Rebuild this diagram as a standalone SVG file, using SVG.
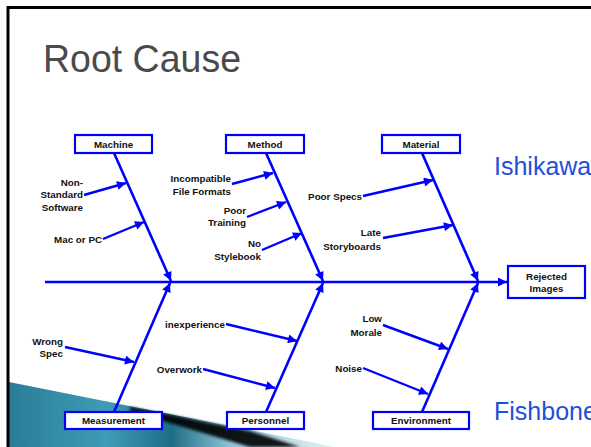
<svg xmlns="http://www.w3.org/2000/svg" width="591" height="447" viewBox="0 0 591 447">
<defs>
<style>
.bone{stroke:#0000ff;stroke-width:2.6;fill:none;}
.sub{stroke:#0000ff;stroke-width:2.4;fill:none;}
.box{fill:#ffffff;stroke:#0000ff;stroke-width:2.2;}
.lbl{font-family:"Liberation Sans",Arial,sans-serif;font-size:9.8px;font-weight:bold;fill:#111111;}
.c{text-anchor:middle;}
.e{text-anchor:end;}
.big{font-family:"Liberation Sans",Arial,sans-serif;font-size:25px;fill:#1d4fd8;}
</style>
<marker id="ah" viewBox="0 0 10 10" refX="10" refY="5" markerWidth="11" markerHeight="9" markerUnits="userSpaceOnUse" orient="auto">
<path d="M0,0 L10,5 L0,10 Z" fill="#0000ff"/>
</marker>
<linearGradient id="teal" x1="9" y1="0" x2="335" y2="0" gradientUnits="userSpaceOnUse">
<stop offset="0" stop-color="#2a7d97"/>
<stop offset="0.3" stop-color="#3f9cb6"/>
<stop offset="0.5" stop-color="#1f6d86"/>
<stop offset="0.68" stop-color="#8ec6d6"/>
<stop offset="1" stop-color="#e4f2f6"/>
</linearGradient>
<filter id="blur" x="-10%" y="-50%" width="120%" height="200%"><feGaussianBlur stdDeviation="1.5"/></filter>
</defs>
<rect x="0" y="0" width="591" height="447" fill="#ffffff"/>
<g id="decoration">
<polygon points="9,382 335,447 9,447" fill="url(#teal)"/>
<polygon points="130,407 250,431 300,447 250,447 130,411" fill="#000000" filter="url(#blur)" opacity="0.9"/>
</g>
<g id="frame">
<line x1="7" y1="7.5" x2="591" y2="7.5" stroke="#000000" stroke-width="3"/>
<line x1="8" y1="6" x2="8" y2="447" stroke="#000000" stroke-width="3"/>
</g>
<text id="title" x="43" y="72" font-family="'Liberation Sans',Arial,sans-serif" font-size="39" fill="#4a4a4a" textLength="198" lengthAdjust="spacingAndGlyphs">Root Cause</text>
<text id="ishikawa" class="big" x="494" y="175">Ishikawa</text>
<text id="fishbone" class="big" x="494" y="420">Fishbone</text>
<g id="connectors">
<line class="bone" x1="45" y1="282" x2="507" y2="282" marker-end="url(#ah)"/>
<line class="bone" x1="114" y1="153" x2="171" y2="281" marker-end="url(#ah)"/>
<line class="bone" x1="266" y1="153" x2="323" y2="281" marker-end="url(#ah)"/>
<line class="bone" x1="422" y1="153" x2="478" y2="281" marker-end="url(#ah)"/>
<line class="bone" x1="114" y1="412" x2="170" y2="283" marker-end="url(#ah)"/>
<line class="bone" x1="266" y1="412" x2="323" y2="283" marker-end="url(#ah)"/>
<line class="bone" x1="422" y1="412" x2="478" y2="283" marker-end="url(#ah)"/>
<line class="sub" x1="84" y1="195" x2="126" y2="183" marker-end="url(#ah)"/>
<line class="sub" x1="103" y1="239" x2="144" y2="222" marker-end="url(#ah)"/>
<line class="sub" x1="232" y1="184" x2="273" y2="173" marker-end="url(#ah)"/>
<line class="sub" x1="247" y1="217" x2="286" y2="202" marker-end="url(#ah)"/>
<line class="sub" x1="262" y1="250" x2="302" y2="233" marker-end="url(#ah)"/>
<line class="sub" x1="363" y1="196" x2="433" y2="180" marker-end="url(#ah)"/>
<line class="sub" x1="383" y1="238" x2="453" y2="225" marker-end="url(#ah)"/>
<line class="sub" x1="65" y1="347" x2="134" y2="362" marker-end="url(#ah)"/>
<line class="sub" x1="226" y1="324" x2="297" y2="341" marker-end="url(#ah)"/>
<line class="sub" x1="203" y1="369" x2="275" y2="388" marker-end="url(#ah)"/>
<line class="sub" x1="383" y1="325" x2="448" y2="349" marker-end="url(#ah)"/>
<line class="sub" x1="363" y1="368" x2="428" y2="394" marker-end="url(#ah)"/>
</g>
<g id="machine"><rect class="box" x="75" y="135" width="77" height="18"/><text class="lbl c" x="113.5" y="147.5">Machine</text></g>
<g id="method"><rect class="box" x="226" y="135" width="78" height="18"/><text class="lbl c" x="265" y="147.5">Method</text></g>
<g id="material"><rect class="box" x="382" y="135" width="78" height="18"/><text class="lbl c" x="421" y="147.5">Material</text></g>
<g id="measurement"><rect class="box" x="65" y="412" width="97" height="17"/><text class="lbl c" x="113.5" y="424">Measurement</text></g>
<g id="personnel"><rect class="box" x="227" y="412" width="77" height="17"/><text class="lbl c" x="265.5" y="424">Personnel</text></g>
<g id="environment"><rect class="box" x="373" y="412" width="96" height="17"/><text class="lbl c" x="421" y="424">Environment</text></g>
<g id="rejected"><rect class="box" x="508" y="266" width="77" height="32"/><text class="lbl c" x="546.5" y="279.5">Rejected</text><text class="lbl c" x="546.5" y="291.5">Images</text></g>
<g id="causes">
<text class="lbl e" x="83" y="185.5">Non-</text>
<text class="lbl e" x="83" y="198">Standard</text>
<text class="lbl e" x="83" y="210.5">Software</text>
<text class="lbl e" x="102" y="242.5">Mac or PC</text>
<text class="lbl e" x="231" y="181.5">Incompatible</text>
<text class="lbl e" x="231" y="194.5">File Formats</text>
<text class="lbl e" x="246" y="213.5">Poor</text>
<text class="lbl e" x="246" y="225.5">Training</text>
<text class="lbl e" x="261" y="246.5">No</text>
<text class="lbl e" x="261" y="259.5">Stylebook</text>
<text class="lbl e" x="362" y="199.5">Poor Specs</text>
<text class="lbl e" x="381" y="235.5">Late</text>
<text class="lbl e" x="381" y="249.5">Storyboards</text>
<text class="lbl e" x="63" y="344.5">Wrong</text>
<text class="lbl e" x="63" y="356.5">Spec</text>
<text class="lbl e" x="225" y="327.5">inexperience</text>
<text class="lbl e" x="202" y="372.5">Overwork</text>
<text class="lbl e" x="382" y="321.5">Low</text>
<text class="lbl e" x="382" y="335.5">Morale</text>
<text class="lbl e" x="362" y="371.5">Noise</text>
</g>
</svg>
